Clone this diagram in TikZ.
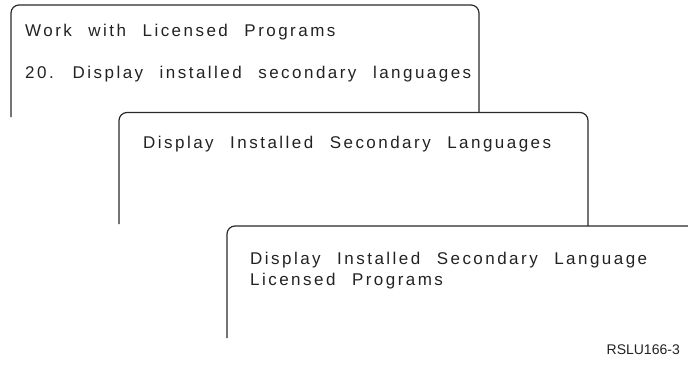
\documentclass[tikz,border=0pt]{standalone}
\usepackage{fontspec}
\setmainfont{Liberation Sans}
\newfontfamily\scrfont[LetterSpace=14.5,WordSpace=2.3]{Liberation Sans}
\definecolor{ink}{HTML}{222222}
\definecolor{edge}{HTML}{2A2A2A}
\begin{document}
\begin{tikzpicture}[x=1pt,y=-1pt,
  panel/.style={draw=edge, line width=1.2pt, rounded corners=8pt},
  txt/.style={anchor=base west, inner sep=0pt, text=ink, font=\scrfont\fontsize{17}{20}\selectfont},
  tag/.style={anchor=base east, inner sep=0pt, text=ink, font=\fontsize{14}{16}\selectfont}]
\useasboundingbox (0,0) rectangle (688,369);
% panels (open at the bottom)
\draw[panel] (11,117) -- (11,5) -- (479,5) -- (479,112.5);
\draw[panel] (119,224) -- (119,112.5) -- (588,112.5) -- (588,226);
\draw[panel] (227,338) -- (227,226) -- (700,226);
% texts
\node[txt] (p1a) at (25,37) {Work with Licensed Programs};
\node[txt] (p1b) at (25,78) {20. Display installed secondary languages};
\node[txt] (p2a) at (143,148) {Display Installed Secondary Languages};
\node[txt] (p3a) at (250,264) {Display Installed Secondary Language};
\node[txt] (p3b) at (250,285) {Licensed Programs};
\node[tag] (id) at (680,354) {RSLU166-3};
\end{tikzpicture}
\end{document}
